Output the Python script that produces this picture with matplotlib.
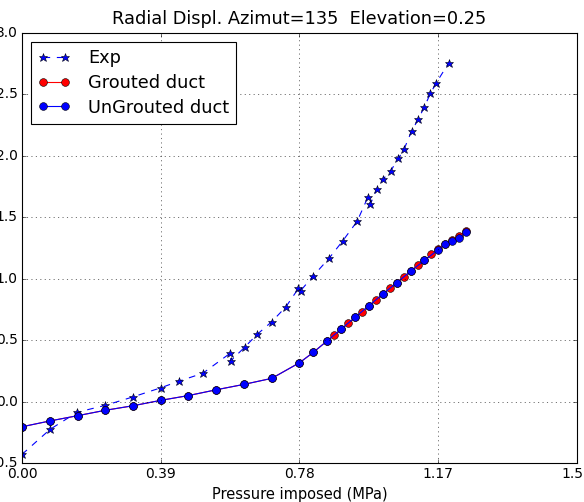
import matplotlib
matplotlib.use("Agg")
import matplotlib.pyplot as plt

plt.style.use("classic")

# experimental points
exp_p = [0.000, 0.079, 0.155, 0.234, 0.313, 0.391, 0.440, 0.508, 0.585, 0.587,
         0.627, 0.661, 0.702, 0.742, 0.777, 0.783, 0.819, 0.863, 0.901, 0.942,
         0.972, 0.979, 0.997, 1.015, 1.036, 1.058, 1.074, 1.095, 1.114, 1.131,
         1.148, 1.164, 1.200]
exp_d = [-0.43, -0.226, -0.087, -0.031, 0.039, 0.113, 0.165, 0.230, 0.393, 0.332,
         0.446, 0.547, 0.650, 0.772, 0.921, 0.902, 1.024, 1.166, 1.306, 1.467,
         1.662, 1.606, 1.727, 1.811, 1.876, 1.979, 2.055, 2.201, 2.299, 2.399,
         2.508, 2.592, 2.759]

# grouted duct model
gr_p = [0.000, 0.078, 0.156, 0.234, 0.312, 0.390, 0.468, 0.546, 0.624, 0.702,
        0.780, 0.819, 0.858, 0.878, 0.897, 0.917, 0.936, 0.956, 0.975, 0.995,
        1.014, 1.034, 1.053, 1.073, 1.092, 1.112, 1.131, 1.151, 1.170, 1.190,
        1.209, 1.229, 1.248]
gr_d = [-0.205, -0.158, -0.115, -0.071, -0.034, 0.010, 0.049, 0.096, 0.140, 0.189,
        0.316, 0.401, 0.495, 0.541, 0.590, 0.637, 0.686, 0.731, 0.780, 0.826,
        0.875, 0.921, 0.967, 1.016, 1.060, 1.109, 1.149, 1.198, 1.240, 1.285,
        1.312, 1.345, 1.390]

# ungrouted duct model
ug_p = [0.000, 0.078, 0.156, 0.234, 0.312, 0.390, 0.468, 0.546, 0.624, 0.702,
        0.780, 0.819, 0.858, 0.897, 0.936, 0.975, 1.014, 1.053, 1.092, 1.131,
        1.170, 1.190, 1.209, 1.229, 1.248]
ug_d = [-0.205, -0.158, -0.115, -0.071, -0.034, 0.010, 0.049, 0.096, 0.140, 0.189,
        0.316, 0.401, 0.495, 0.590, 0.686, 0.780, 0.875, 0.967, 1.060, 1.149,
        1.236, 1.284, 1.309, 1.331, 1.377]

xticks = [0.00, 0.39, 0.78, 1.17, 1.56]

fig = plt.figure(figsize=(584 / 80, 502 / 80), dpi=80)
ax = fig.add_axes([22 / 584, 1 - 463 / 502, 555 / 584, 430 / 502])

ax.plot(exp_p, exp_d, "b*--", markersize=8, mec="k", mew=0.5, label="Exp")
ax.plot(gr_p, gr_d, "ro-", markersize=7, mec="k", mew=0.5, label="Grouted duct")
ax.plot(ug_p, ug_d, "bo-", markersize=7, mec="k", mew=0.5, label="UnGrouted duct")

ax.set_xlim(0, 1.56)
ax.set_ylim(-0.5, 3.0)
ax.set_xticks(xticks)
ax.set_xticklabels(["%.2f" % t for t in xticks])
ax.tick_params(labelsize=12.5)
ax.grid(True)
ax.set_xlabel("Pressure imposed (MPa)", fontsize=13.2)
ax.set_title("Radial Displ. Azimut=135  Elevation=0.25", fontsize=16, pad=8)
ax.legend(loc="upper left", numpoints=2, fontsize=16, handlelength=1.8,
          handletextpad=1.0, labelspacing=0.38, borderaxespad=0.5)

fig.savefig("out.png", dpi=80)
